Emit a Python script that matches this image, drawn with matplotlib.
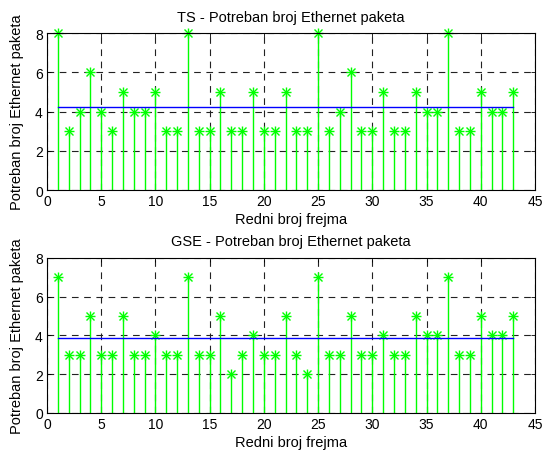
import matplotlib
matplotlib.use("Agg")
import matplotlib.pyplot as plt

plt.rcParams['font.family'] = ['Liberation Sans', 'DejaVu Sans']

# redni broj frejma
frames = list(range(1, 44))

# potreban broj Ethernet paketa po frejmu
ts_packets = [8, 3, 4, 6, 4, 3, 5, 4, 4, 5,
              3, 3, 8, 3, 3, 5, 3, 3, 5, 3,
              3, 5, 3, 3, 8, 3, 4, 6, 3, 3,
              5, 3, 3, 5, 4, 4, 8, 3, 3, 5,
              4, 4, 5]
gse_packets = [7, 3, 3, 5, 3, 3, 5, 3, 3, 4,
               3, 3, 7, 3, 3, 5, 2, 3, 4, 3,
               3, 5, 3, 2, 7, 3, 3, 5, 3, 3,
               4, 3, 3, 5, 4, 4, 7, 3, 3, 5,
               4, 4, 5]

titles = ["TS - Potreban broj Ethernet paketa",
          "GSE - Potreban broj Ethernet paketa"]

fig = plt.figure(figsize=(5.45, 4.52), dpi=100)
ax_top = fig.add_axes([0.0862, 0.5774, 0.8954, 0.3473])
ax_bot = fig.add_axes([0.0862, 0.0841, 0.8954, 0.3430])


def draw_panel(ax, values, title):
    ax.set_axisbelow(True)
    ax.grid(True, color='#222222', linestyle=(0, (6, 5)), linewidth=0.8)
    ax.vlines(frames, 0, values, color='#00ff00', linewidth=1.0, zorder=2)
    # matlab-like asterisk = plus + cross
    for m in ['+', 'x']:
        ax.plot(frames, values, linestyle='none', marker=m, color='#00ff00',
                markersize=7 if m == '+' else 5.2, markeredgewidth=1.0,
                zorder=3, clip_on=False)
    mean = sum(values) / len(values)
    ax.plot([frames[0], frames[-1]], [mean, mean], color='#0000ff',
            linewidth=1.0, zorder=4)
    ax.set_xlim(0, 45)
    ax.set_ylim(0, 8)
    ax.set_xticks(range(0, 46, 5))
    ax.set_yticks(range(0, 9, 2))
    ax.tick_params(direction='in', length=3, labelsize=10, width=0.6,
                   top=True, right=True, pad=3)
    for s in ax.spines.values():
        s.set_linewidth(0.8)
        s.set_zorder(5)
    ax.set_title(title, fontsize=10.5, pad=9)
    ax.set_xlabel("Redni broj frejma", fontsize=10.5, labelpad=3)
    ax.set_ylabel("Potreban broj Ethernet paketa", fontsize=10.5, labelpad=8)


draw_panel(ax_top, ts_packets, titles[0])
draw_panel(ax_bot, gse_packets, titles[1])

fig.savefig("out.png", dpi=100)
